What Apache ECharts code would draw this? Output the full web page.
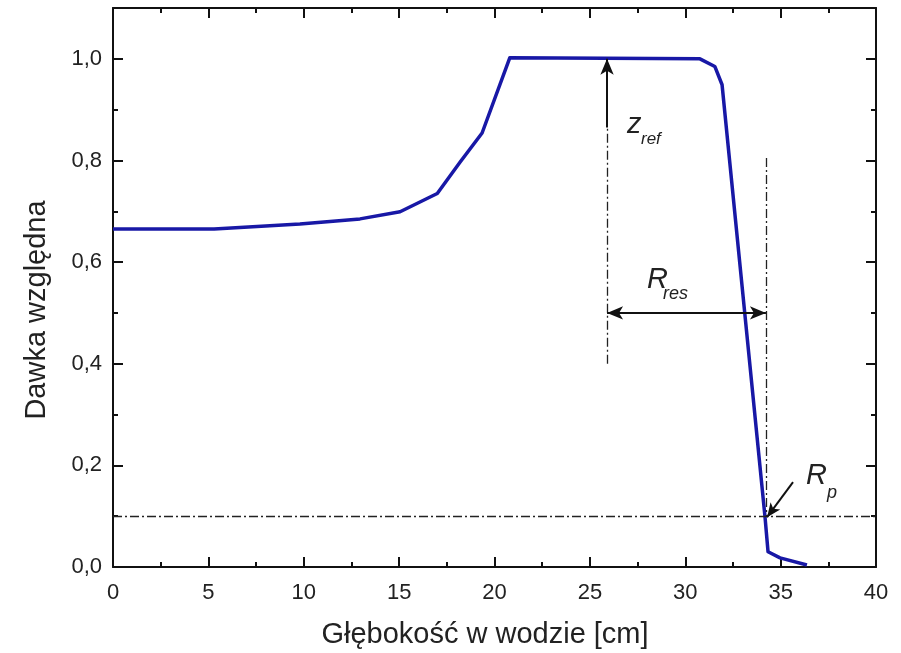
<!DOCTYPE html>
<html>
<head>
<meta charset="utf-8">
<script src="https://cdn.jsdelivr.net/npm/echarts@6/dist/echarts.min.js"></script>
<style>
  html, body { margin: 0; padding: 0; background: #fff; }
  #chart { width: 901px; height: 653px; }
</style>
</head>
<body>
<div id="chart"></div>
<script>
// depth [cm] and relative dose
var depth = [0, 5.3, 9.8, 12.95, 15.05, 17.0, 18.2, 19.35, 20.8, 30.77, 31.55, 31.93, 34.18, 34.34, 34.97, 36.38];
var dose  = [0.665, 0.665, 0.675, 0.685, 0.699, 0.735, 0.797, 0.854, 1.002, 1.0, 0.985, 0.949, 0.099, 0.030, 0.018, 0.004];

var xTicks = [0, 5, 10, 15, 20, 25, 30, 35, 40];
var yTicks = [0, 0.2, 0.4, 0.6, 0.8, 1.0];

var xTitle = 'Głębokość w wodzie [cm]';
var yTitle = 'Dawka względna';

// annotation geometry in data units
var zRefX = 25.9, rpX = 34.23, rpLevel = 0.1, rresY = 0.5;
var zRefBottom = 0.4, zRefArrowStart = 0.865, rpTop = 0.805;
var rpArrowFrom = [35.65, 0.167], rpArrowTo = [34.29, 0.098];

var labels = [
  { txt: 'z',   at: [26.95, 0.870], size: 29 },
  { txt: 'ref', at: [27.68, 0.842], size: 17 },
  { txt: 'R',   at: [28.0, 0.565], size: 29 },
  { txt: 'res', at: [28.83, 0.537], size: 18 },
  { txt: 'R',   at: [36.33, 0.179], size: 29 },
  { txt: 'p',   at: [37.43, 0.146], size: 18 }
];

var dashDot = [9, 3, 2, 3];
var font = 'Liberation Sans, Arial, sans-serif';

var chart = echarts.init(document.getElementById('chart'));

function fmtY(v) {
  if (v > 1.05) return '';
  return v.toFixed(1).replace('.', ',');
}

var axisBase = {
  type: 'value',
  axisLine: { show: true, onZero: false, lineStyle: { color: '#111', width: 2 } },
  axisTick: { show: true, inside: true, length: 10, lineStyle: { color: '#111', width: 2 } },
  minorTick: { show: true, splitNumber: 2, length: 5, lineStyle: { color: '#111', width: 2 } },
  splitLine: { show: false },
  minorSplitLine: { show: false }
};

function mk(o) { return Object.assign({}, axisBase, o); }

var markLines = [
  // horizontal reference at 0.1
  [{ coord: [0, rpLevel], symbol: 'none', lineStyle: { type: dashDot, width: 1.3, color: '#222' } },
   { coord: [40, rpLevel], symbol: 'none' }],
  // z_ref dash-dot part
  [{ coord: [zRefX, zRefBottom], symbol: 'none', lineStyle: { type: dashDot, width: 1.3, color: '#222' } },
   { coord: [zRefX, zRefArrowStart], symbol: 'none' }],
  // z_ref arrow
  [{ coord: [zRefX, zRefArrowStart], symbol: 'none', lineStyle: { type: 'solid', width: 2, color: '#111' } },
   { coord: [zRefX, 1.0], symbol: 'arrow', symbolSize: [10, 16] }],
  // Rp vertical dash-dot
  [{ coord: [rpX, rpTop], symbol: 'none', lineStyle: { type: dashDot, width: 1.3, color: '#222' } },
   { coord: [rpX, rpLevel], symbol: 'none' }],
  // R_res double arrow
  [{ coord: [zRefX, rresY], symbol: 'arrow', symbolSize: [10, 16], lineStyle: { type: 'solid', width: 2, color: '#111' } },
   { coord: [rpX, rresY], symbol: 'arrow', symbolSize: [10, 16] }],
  // Rp pointer
  [{ coord: rpArrowFrom, symbol: 'none', lineStyle: { type: 'solid', width: 2, color: '#111' } },
   { coord: rpArrowTo, symbol: 'arrow', symbolSize: [9, 14] }]
];

chart.setOption({
  animation: false,
  backgroundColor: '#fff',
  grid: { left: 113, right: 25, top: 8, bottom: 86, containLabel: false, outerBoundsMode: 'none' },
  xAxis: [
    mk({
      position: 'bottom', min: 0, max: 40, interval: 5,
      axisLabel: { fontFamily: font, fontSize: 22, color: '#222', margin: 15,
                   formatter: function (v) { return xTicks.indexOf(v) >= 0 ? String(v) : ''; } }
    }),
    mk({ position: 'top', min: 0, max: 40, interval: 5, axisLabel: { show: false } })
  ],
  yAxis: [
    mk({
      position: 'left', min: 0, max: 1.1, interval: 0.2,
      axisLabel: { fontFamily: font, fontSize: 22, color: '#222', margin: 11, showMaxLabel: false,
                   formatter: function (v) { return yTicks.some(function (t) { return Math.abs(t - v) < 1e-6; }) ? fmtY(v) : ''; } }
    }),
    mk({ position: 'right', min: 0, max: 1.1, interval: 0.2, axisLabel: { show: false } })
  ],
  series: [
    {
      type: 'line',
      data: depth.map(function (d, i) { return [d, dose[i]]; }),
      showSymbol: false,
      symbol: 'none',
      lineStyle: { color: '#1818a6', width: 3.5, join: 'round' },
      z: 3
    },
    {
      type: 'line',
      data: [],
      markLine: {
        silent: true,
        animation: false,
        label: { show: false },
        emphasis: { disabled: true },
        data: markLines
      },
      z: 4
    }
  ]
});

var graphics = labels.map(function (l) {
  var p = chart.convertToPixel({ gridIndex: 0 }, l.at);
  return {
    type: 'text',
    x: p[0], y: p[1],
    style: {
      text: l.txt,
      fill: '#222',
      font: 'italic ' + l.size + 'px ' + font,
      textAlign: 'left',
      textVerticalAlign: 'middle'
    },
    z: 10
  };
});

// axis titles
graphics.push({
  type: 'text', x: 485, y: 635,
  style: { text: xTitle, fill: '#222', font: '29px ' + font, textAlign: 'center', textVerticalAlign: 'middle' }
});
graphics.push({
  type: 'text', x: 37, y: 310, rotation: Math.PI / 2,
  style: { text: yTitle, fill: '#222', font: '29px ' + font, textAlign: 'center', textVerticalAlign: 'middle' }
});

chart.setOption({ graphic: graphics });
</script>
</body>
</html>
